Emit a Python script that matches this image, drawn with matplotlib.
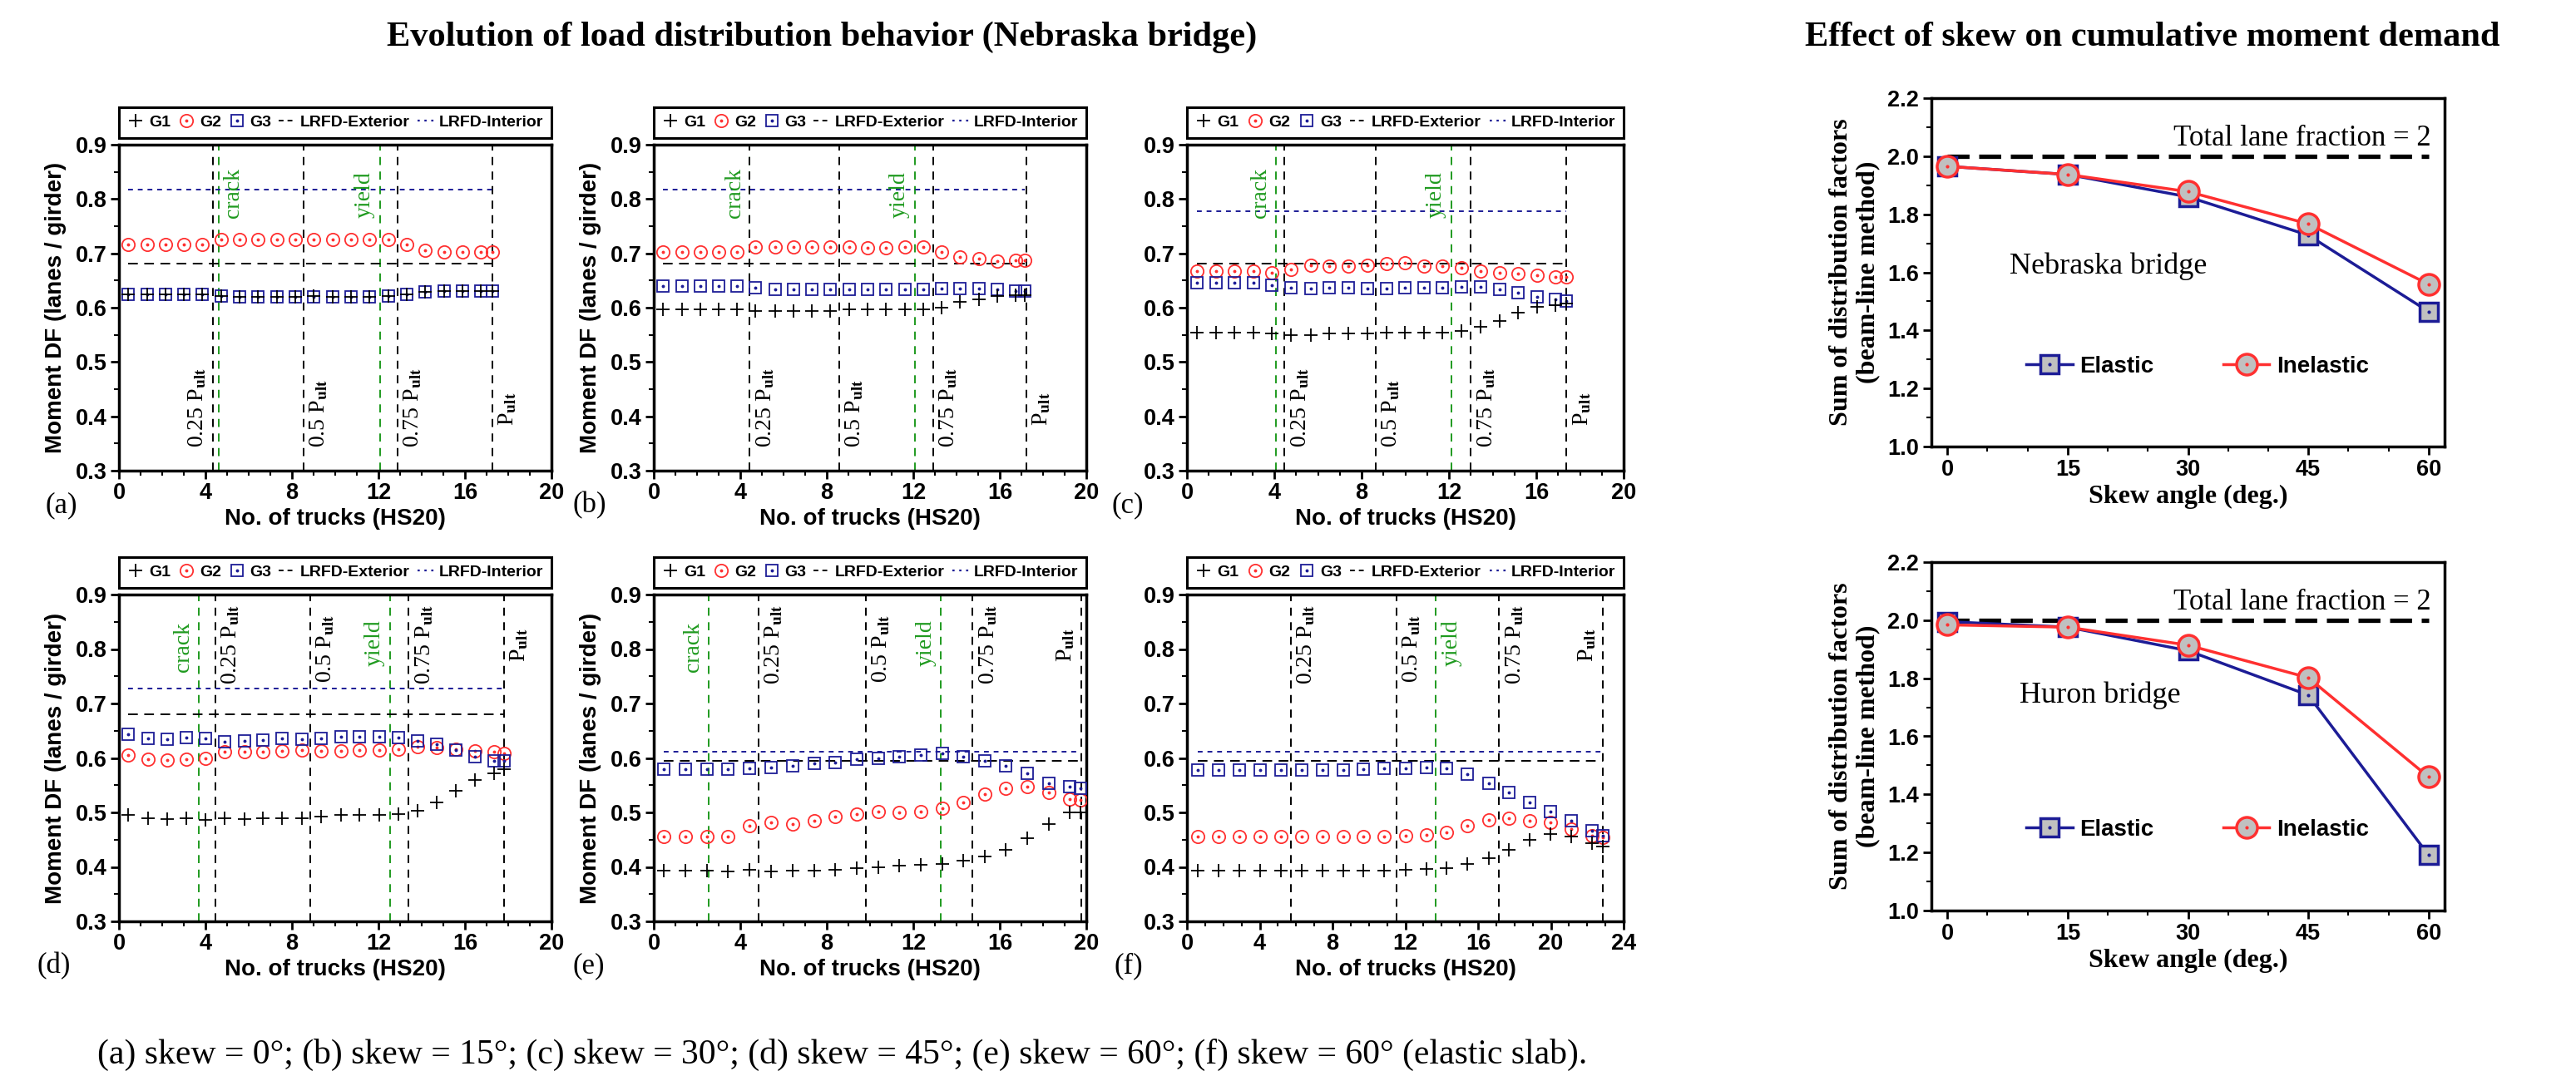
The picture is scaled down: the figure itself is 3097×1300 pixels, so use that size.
import matplotlib
matplotlib.use("Agg")
import matplotlib.pyplot as plt
from matplotlib.lines import Line2D
from matplotlib.ticker import MultipleLocator

plt.rcParams["font.family"] = ["Liberation Sans", "DejaVu Sans"]
plt.rcParams["font.weight"] = "bold"
plt.rcParams["mathtext.fontset"] = "stix"
plt.rcParams["axes.linewidth"] = 2.5

SERIF = ["Liberation Serif", "DejaVu Serif"]
RED = "#ff3030"
NAVY = "#1c1c96"
GREEN = "#1f9a1f"
GREY = "#c0c0c0"

# ---------------- data ----------------
# (a) skew = 0
trucks_a = [0.43, 1.29, 2.15, 3.00, 3.86, 4.72, 5.58, 6.44, 7.30, 8.15, 9.01,
            9.87, 10.73, 11.59, 12.45, 13.30, 14.16, 15.02, 15.88, 16.74, 17.25]
g1_a = [0.625, 0.625, 0.625, 0.625, 0.625, 0.621, 0.620, 0.620, 0.620, 0.620, 0.621,
        0.620, 0.620, 0.620, 0.621, 0.625, 0.629, 0.630, 0.630, 0.631, 0.631]
g2_a = [0.717, 0.717, 0.717, 0.717, 0.717, 0.725, 0.726, 0.726, 0.726, 0.726, 0.725,
        0.726, 0.726, 0.726, 0.725, 0.717, 0.705, 0.703, 0.702, 0.703, 0.703]
g3_a = [0.625, 0.625, 0.625, 0.625, 0.625, 0.621, 0.620, 0.620, 0.620, 0.620, 0.620,
        0.620, 0.620, 0.620, 0.621, 0.625, 0.629, 0.630, 0.630, 0.630, 0.630]
lrfd_a = [0.681, 0.818]
marks_a = [("crack", 4.60), ("p25", 4.34), ("p50", 8.53), ("yield", 12.07), ("p75", 12.88), ("pult", 17.25)]

# (b) skew = 15
trucks_b = [0.43, 1.29, 2.14, 3.00, 3.85, 4.71, 5.60, 6.46, 7.32, 8.17, 9.03,
            9.89, 10.74, 11.60, 12.46, 13.31, 14.17, 15.03, 15.89, 16.74, 17.17]
g1_b = [0.597, 0.597, 0.597, 0.597, 0.597, 0.594, 0.594, 0.594, 0.594, 0.594, 0.597,
        0.597, 0.597, 0.597, 0.597, 0.600, 0.610, 0.616, 0.622, 0.623, 0.623]
g2_b = [0.702, 0.702, 0.702, 0.702, 0.702, 0.711, 0.712, 0.711, 0.711, 0.711, 0.711,
        0.710, 0.710, 0.712, 0.711, 0.702, 0.694, 0.690, 0.686, 0.688, 0.688]
g3_b = [0.640, 0.640, 0.640, 0.640, 0.640, 0.636, 0.634, 0.634, 0.634, 0.634, 0.634,
        0.634, 0.634, 0.633, 0.633, 0.635, 0.635, 0.635, 0.633, 0.631, 0.630]
lrfd_b = [0.681, 0.818]
marks_b = [("crack", 4.44), ("p25", 4.44), ("p50", 8.57), ("yield", 12.07), ("p75", 12.92), ("pult", 17.22)]

# (c) skew = 30
trucks_c = [0.45, 1.32, 2.18, 3.05, 3.90, 4.77, 5.66, 6.53, 7.39, 8.26, 9.13,
            9.98, 10.86, 11.71, 12.57, 13.44, 14.31, 15.17, 16.04, 16.89, 17.37]
g1_c = [0.554, 0.554, 0.554, 0.554, 0.553, 0.550, 0.550, 0.553, 0.553, 0.553, 0.554,
        0.554, 0.554, 0.554, 0.557, 0.565, 0.576, 0.591, 0.602, 0.605, 0.607]
g2_c = [0.668, 0.668, 0.668, 0.668, 0.665, 0.671, 0.678, 0.676, 0.677, 0.678, 0.681,
        0.682, 0.677, 0.677, 0.674, 0.668, 0.665, 0.663, 0.660, 0.657, 0.656]
g3_c = [0.646, 0.646, 0.646, 0.646, 0.641, 0.637, 0.635, 0.636, 0.636, 0.635, 0.635,
        0.636, 0.637, 0.637, 0.639, 0.639, 0.634, 0.628, 0.620, 0.615, 0.612]
lrfd_c = [0.681, 0.778]
marks_c = [("crack", 4.08), ("p25", 4.47), ("p50", 8.63), ("yield", 12.11), ("p75", 13.00), ("pult", 17.37)]

# (d) skew = 45
trucks_d = [0.43, 1.34, 2.23, 3.12, 4.00, 4.89, 5.79, 6.66, 7.55, 8.45, 9.36,
            10.25, 11.12, 12.02, 12.91, 13.79, 14.71, 15.59, 16.45, 17.34, 17.80]
g1_d = [0.495, 0.490, 0.488, 0.490, 0.487, 0.490, 0.488, 0.490, 0.490, 0.490, 0.492,
        0.495, 0.495, 0.495, 0.497, 0.503, 0.519, 0.539, 0.560, 0.572, 0.579]
g2_d = [0.605, 0.597, 0.596, 0.598, 0.599, 0.611, 0.611, 0.612, 0.613, 0.614, 0.613,
        0.613, 0.614, 0.614, 0.616, 0.620, 0.619, 0.616, 0.613, 0.611, 0.609]
g3_d = [0.644, 0.636, 0.634, 0.637, 0.636, 0.630, 0.632, 0.633, 0.636, 0.635, 0.636,
        0.639, 0.639, 0.639, 0.637, 0.632, 0.625, 0.614, 0.603, 0.594, 0.594]
lrfd_d = [0.680, 0.728]
marks_d = [("crack", 3.69), ("p25", 4.46), ("p50", 8.84), ("yield", 12.53), ("p75", 13.39), ("pult", 17.80)]

# (e) skew = 60
trucks_e = [0.48, 1.46, 2.45, 3.43, 4.43, 5.42, 6.42, 7.42, 8.39, 9.39, 10.39,
            11.36, 12.36, 13.34, 14.32, 15.30, 16.27, 17.27, 18.25, 19.23, 19.74]
g1_e = [0.393, 0.393, 0.393, 0.391, 0.394, 0.391, 0.393, 0.393, 0.394, 0.398, 0.400,
        0.403, 0.404, 0.405, 0.411, 0.419, 0.432, 0.452, 0.478, 0.500, 0.500]
g2_e = [0.455, 0.455, 0.455, 0.456, 0.475, 0.481, 0.479, 0.485, 0.493, 0.497, 0.501,
        0.500, 0.502, 0.508, 0.519, 0.533, 0.545, 0.548, 0.537, 0.525, 0.523]
g3_e = [0.579, 0.579, 0.579, 0.579, 0.581, 0.583, 0.586, 0.590, 0.592, 0.597, 0.599,
        0.603, 0.605, 0.609, 0.603, 0.595, 0.586, 0.571, 0.554, 0.548, 0.545]
lrfd_e = [0.594, 0.612]
marks_e = [("crack", 2.52), ("p25", 4.84), ("p50", 9.79), ("yield", 13.27), ("p75", 14.73), ("pult", 19.78)]

# (f) skew = 60, elastic slab
trucks_f = [0.59, 1.75, 2.88, 4.02, 5.15, 6.31, 7.44, 8.58, 9.71, 10.85, 12.00,
            13.15, 14.27, 15.42, 16.58, 17.69, 18.83, 19.96, 21.12, 22.25, 22.85]
g1_f = [0.393, 0.393, 0.393, 0.393, 0.393, 0.393, 0.393, 0.393, 0.393, 0.393, 0.395,
        0.396, 0.398, 0.406, 0.416, 0.431, 0.449, 0.461, 0.455, 0.444, 0.438]
g2_f = [0.455, 0.455, 0.455, 0.455, 0.455, 0.455, 0.455, 0.455, 0.455, 0.456, 0.457,
        0.459, 0.463, 0.475, 0.486, 0.489, 0.485, 0.481, 0.469, 0.457, 0.454]
g3_f = [0.578, 0.578, 0.578, 0.578, 0.578, 0.578, 0.578, 0.578, 0.580, 0.581, 0.581,
        0.582, 0.581, 0.570, 0.553, 0.536, 0.519, 0.502, 0.485, 0.467, 0.458]
lrfd_f = [0.595, 0.612]
marks_f = [("p25", 5.71), ("p50", 11.50), ("yield", 13.69), ("p75", 17.15), ("pult", 22.85)]

# right column: sum of distribution factors vs skew
skew = [0, 15, 30, 45, 60]
neb_elastic = [1.965, 1.937, 1.860, 1.728, 1.465]
neb_inelastic = [1.965, 1.937, 1.878, 1.767, 1.559]
huron_elastic = [1.995, 1.976, 1.895, 1.742, 1.191]
huron_inelastic = [1.984, 1.976, 1.914, 1.802, 1.460]
lane_total = 2.0

legend_labels = ["G1", "G2", "G3", "LRFD-Exterior", "LRFD-Interior"]
mark_text = {"crack": "crack", "yield": "yield", "p25": "0.25 P$_{\\rm ult}$",
             "p50": "0.5 P$_{\\rm ult}$", "p75": "0.75 P$_{\\rm ult}$", "pult": "P$_{\\rm ult}$"}
caption = ("(a) skew = 0\u00b0; (b) skew = 15\u00b0; (c) skew = 30\u00b0; (d) skew = 45\u00b0; "
           "(e) skew = 60\u00b0; (f) skew = 60\u00b0 (elastic slab).")

# ---------------- layout ----------------
W, H = 3097, 1300
fig = plt.figure(figsize=(W / 100, H / 100), dpi=100)


def px(x0, y0, x1, y1):
    return [x0 / W, 1 - y1 / H, (x1 - x0) / W, (y1 - y0) / H]


def bold_ticks(ax, size):
    for lbl in ax.get_xticklabels() + ax.get_yticklabels():
        lbl.set_fontweight("bold")
        lbl.set_fontsize(size)


label_y = {1: {"crack": 0.765, "yield": 0.765, "p25": 0.343, "p50": 0.343, "p75": 0.343, "pult": 0.383},
           2: {"crack": 0.758, "yield": 0.769, "p25": 0.735, "p50": 0.738, "p75": 0.735, "pult": 0.777}}


def draw_panel(rect, x, g1, g2, g3, lrfd, marks, sides, xmax, row, letter, letter_xy, ylab):
    ax = fig.add_axes(px(*rect))
    ax.set_xlim(0, xmax)
    ax.set_ylim(0.3, 0.9)
    off = xmax * 0.011
    # green first so black dashes sit on top where they coincide
    for (name, xv), side in sorted(zip(marks, sides), key=lambda m: m[0][0] not in ("crack", "yield")):
        col = GREEN if name in ("crack", "yield") else "k"
        ax.axvline(xv, color=col, ls=(0, (5, 4)), lw=1.4, zorder=1)
        if side == "R":
            tx, ha = xv + off, "left"
        else:
            tx, ha = xv - off, "right"
        ax.text(tx, label_y[row][name], mark_text[name], rotation=90, ha=ha, va="bottom",
                family=SERIF, weight="normal", size=20, color=col)
    ax.plot([x[0], x[-1]], [lrfd[0], lrfd[0]], color="k", ls=(0, (6, 4)), lw=1.4, zorder=1)
    ax.plot([x[0], x[-1]], [lrfd[1], lrfd[1]], color=NAVY, ls=(0, (3, 3)), lw=1.4, zorder=1)
    ax.plot(x, g2, ls="none", marker="o", ms=11, mfc="none", mec=RED, mew=1.3, zorder=3)
    ax.plot(x, g2, ls="none", marker="o", ms=1.8, color=RED, zorder=3)
    ax.plot(x, g3, ls="none", marker="s", ms=9.5, mfc="none", mec=NAVY, mew=1.3, zorder=3)
    ax.plot(x, g3, ls="none", marker="o", ms=1.8, color=NAVY, zorder=3)
    ax.plot(x, g1, ls="none", marker="+", ms=12, color="k", mew=1.3, zorder=4)

    ax.xaxis.set_major_locator(MultipleLocator(4))
    ax.xaxis.set_minor_locator(MultipleLocator(1))
    ax.yaxis.set_major_locator(MultipleLocator(0.1))
    ax.yaxis.set_minor_locator(MultipleLocator(0.05))
    ax.tick_params(which="major", direction="out", length=7, width=2, labelsize=19.5, pad=3)
    ax.tick_params(which="minor", direction="out", length=4, width=1.5)
    bold_ticks(ax, 19.5)
    ax.set_xlabel("No. of trucks (HS20)", size=20, weight="bold", labelpad=4)
    if ylab:
        ax.set_ylabel("Moment DF (lanes / girder)", size=20, weight="bold", labelpad=8)

    handles = [Line2D([], [], ls="none", marker="+", ms=12, color="k", mew=1.3),
               (Line2D([], [], ls="none", marker="o", ms=11, mfc="none", mec=RED, mew=1.3),
                Line2D([], [], ls="none", marker="o", ms=1.8, color=RED)),
               (Line2D([], [], ls="none", marker="s", ms=9.5, mfc="none", mec=NAVY, mew=1.3),
                Line2D([], [], ls="none", marker="o", ms=1.8, color=NAVY)),
               Line2D([], [], color="k", ls=(0, (3, 2.5)), lw=1.4),
               Line2D([], [], color=NAVY, ls=(0, (1.2, 2.5)), lw=1.6)]
    h = rect[3] - rect[1]
    leg = ax.legend(handles, legend_labels, loc="lower left", bbox_to_anchor=(0, 1 + 8 / h, 1, 0.1),
                    mode="expand", ncol=5, fancybox=False, edgecolor="k", framealpha=1,
                    handlelength=1.1, handletextpad=0.25, columnspacing=0.5, borderpad=0.5,
                    borderaxespad=0, prop={"family": "Liberation Sans", "weight": "bold", "size": 14})
    leg.get_frame().set_linewidth(2.2)
    fig.text(letter_xy[0] / W, 1 - letter_xy[1] / H, letter, ha="center", va="center",
             family=SERIF, weight="normal", size=25)
    return ax


draw_panel((143, 174, 663, 566), trucks_a, g1_a, g2_a, g3_a, lrfd_a, marks_a,
           ["R", "L", "R", "L", "R", "R"], 20, 1, "(a)", (74, 608), True)
draw_panel((786, 174, 1306, 566), trucks_b, g1_b, g2_b, g3_b, lrfd_b, marks_b,
           ["L", "R", "R", "L", "R", "R"], 20, 1, "(b)", (709, 608), True)
draw_panel((1427, 174, 1952, 566), trucks_c, g1_c, g2_c, g3_c, lrfd_c, marks_c,
           ["L", "R", "R", "L", "R", "R"], 20, 1, "(c)", (1356, 608), False)
draw_panel((143, 715, 663, 1108), trucks_d, g1_d, g2_d, g3_d, lrfd_d, marks_d,
           ["L", "R", "R", "L", "R", "R"], 20, 2, "(d)", (65, 1162), True)
draw_panel((786, 715, 1306, 1108), trucks_e, g1_e, g2_e, g3_e, lrfd_e, marks_e,
           ["L", "R", "R", "L", "R", "L"], 20, 2, "(e)", (708, 1162), True)
draw_panel((1427, 715, 1952, 1108), trucks_f, g1_f, g2_f, g3_f, lrfd_f, marks_f,
           ["R", "R", "R", "R", "L"], 24, 2, "(f)", (1357, 1162), False)


def draw_sum(rect, elastic, inelastic, bridge, bridge_xy, leg_y):
    ax = fig.add_axes(px(*rect))
    ax.set_xlim(-2, 62)
    ax.set_ylim(1.0, 2.2)
    ax.plot([skew[0], skew[-1]], [lane_total, lane_total], color="k", lw=3.8,
            ls=(0, (5, 2.2)), zorder=1)
    ax.plot(skew, elastic, color=NAVY, lw=2.5, marker="s", ms=16, mfc=GREY, mec=NAVY, mew=2.5, zorder=2)
    ax.plot(skew, elastic, ls="none", marker="o", ms=2, color=NAVY, zorder=2)
    ax.plot(skew, inelastic, color=RED, lw=2.5, marker="o", ms=18, mfc=GREY, mec=RED, mew=2.5, zorder=3)
    ax.plot(skew, inelastic, ls="none", marker="o", ms=2, color=RED, zorder=3)
    ax.text(60.3, 2.06, "Total lane fraction = 2", ha="right", va="center",
            family=SERIF, weight="normal", size=25)
    ax.text(bridge_xy[0], bridge_xy[1], bridge, ha="left", va="center",
            family=SERIF, weight="normal", size=26)
    ax.xaxis.set_major_locator(MultipleLocator(15))
    ax.xaxis.set_minor_locator(MultipleLocator(5))
    ax.yaxis.set_major_locator(MultipleLocator(0.2))
    ax.yaxis.set_minor_locator(MultipleLocator(0.1))
    ax.tick_params(which="major", direction="out", length=7, width=2, labelsize=19.5, pad=4)
    ax.tick_params(which="minor", direction="out", length=4, width=1.5)
    bold_ticks(ax, 19.5)
    ax.set_xlabel("Skew angle (deg.)", family=SERIF, weight="bold", size=23, labelpad=3)
    ax.set_ylabel("Sum of distribution factors\n(beam-line method)", family=SERIF,
                  weight="bold", size=23, linespacing=1.15, labelpad=6)
    handles = [(Line2D([], [], color=NAVY, lw=2.5, marker="s", ms=16, mfc=GREY, mec=NAVY, mew=2.5),
                Line2D([], [], ls="none", marker="o", ms=2, color=NAVY)),
               (Line2D([], [], color=RED, lw=2.5, marker="o", ms=18, mfc=GREY, mec=RED, mew=2.5),
                Line2D([], [], ls="none", marker="o", ms=2, color=RED))]
    ax.legend(handles, ["Elastic", "Inelastic"], loc="center left", bbox_to_anchor=(0.145, leg_y),
              ncol=2, frameon=False, handlelength=2.0, handletextpad=0.3, columnspacing=3.0,
              prop={"family": "Liberation Sans", "weight": "bold", "size": 20})
    return ax


draw_sum((2322, 118, 2939, 537), neb_elastic, neb_inelastic, "Nebraska bridge", (7.8, 1.621), 0.23)
draw_sum((2322, 676, 2939, 1095), huron_elastic, huron_inelastic, "Huron bridge", (9.0, 1.742), 0.232)

fig.text(988 / W, 1 - 45 / H, "Evolution of load distribution behavior (Nebraska bridge)",
         ha="center", va="center", family=SERIF, weight="bold", size=30.5)
fig.text(2588 / W, 1 - 45 / H, "Effect of skew on cumulative moment demand",
         ha="center", va="center", family=SERIF, weight="bold", size=30.5)
fig.text(117 / W, 1 - 1268 / H, caption, ha="left", va="center", family=SERIF,
         weight="normal", size=30)

fig.savefig("out.png", dpi=100)
